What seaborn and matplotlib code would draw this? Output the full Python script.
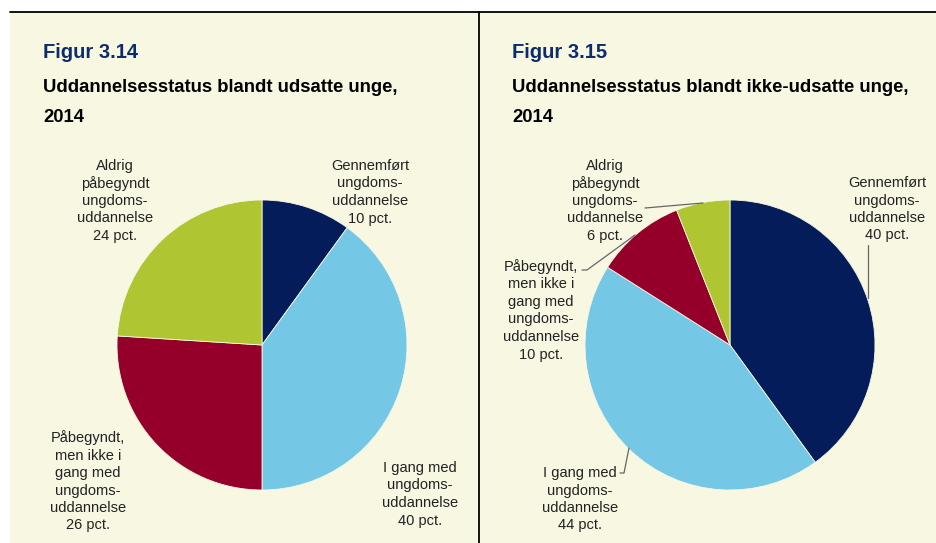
import matplotlib
matplotlib.use("Agg")
import matplotlib.pyplot as plt
from matplotlib.patches import Rectangle
from matplotlib.lines import Line2D
import seaborn as sns

# Data
categories = ["Gennemført", "I gang med", "Påbegyndt", "Aldrig"]
udsatte = [10, 40, 26, 24]
ikke_udsatte = [40, 44, 10, 6]

label_lines = {
    "Gennemført": ["Gennemført", "ungdoms-", "uddannelse"],
    "I gang med": ["I gang med", "ungdoms-", "uddannelse"],
    "Påbegyndt": ["Påbegyndt,", "men ikke i", "gang med", "ungdoms-", "uddannelse"],
    "Aldrig": ["Aldrig", "påbegyndt", "ungdoms-", "uddannelse"],
}

titles = ["Figur 3.14", "Figur 3.15"]
subtitles = ["Uddannelsesstatus blandt udsatte unge,", "Uddannelsesstatus blandt ikke-udsatte unge,"]
year = "2014"

sns.set_theme(style="white")
plt.rcParams["font.family"] = ["Liberation Sans", "DejaVu Sans"]

palette = sns.color_palette(["#041D5A", "#74C8E6", "#94002A", "#AFC531"])
cream = "#F8F7E2"
text_col = "#222222"
lead_col = "#666666"

W, H = 936, 543
fig = plt.figure(figsize=(W / 100, H / 100), dpi=100, facecolor="white")


def fx(x):
    return x / W


def fy(y):
    return 1 - y / H


# Panel background and frame lines
bg = Rectangle((fx(10), 0), fx(W - 10), fy(12), transform=fig.transFigure,
               facecolor=cream, edgecolor="none", zorder=-10)
fig.add_artist(bg)
fig.add_artist(Line2D([fx(10), 1], [fy(12), fy(12)], transform=fig.transFigure,
                      color="black", lw=1.3, zorder=5))
fig.add_artist(Line2D([fx(479), fx(479)], [fy(12), 0], transform=fig.transFigure,
                      color="black", lw=1.3, zorder=5))

# Headings
for x0, t, s in zip([43, 512], titles, subtitles):
    fig.text(fx(x0), fy(53), t, color="#0B2D6B", fontsize=14.5, fontweight="bold", va="center")
    fig.text(fx(x0), fy(87), s, color="black", fontsize=13.3, fontweight="bold", va="center")
    fig.text(fx(x0), fy(118), year, color="black", fontsize=13.3, fontweight="bold", va="center")

R = 145


def draw_pie(cx, cy, values):
    ax = fig.add_axes([fx(cx - R), fy(cy + R), fx(2 * R), (2 * R) / H], zorder=1)
    ax.pie(values, colors=palette, startangle=90, counterclock=False,
           wedgeprops=dict(linewidth=0.6, edgecolor=cream), radius=1)
    ax.set_xlim(-1, 1)
    ax.set_ylim(-1, 1)
    ax.set_aspect("equal")
    ax.axis("off")
    return ax


def block(xc, ytop, lines, step=17.5):
    for i, ln in enumerate(lines):
        fig.text(fx(xc), fy(ytop + i * step), ln, ha="center", va="center",
                 fontsize=10.5, color=text_col, zorder=6)


def leader(pts):
    xs = [fx(p[0]) for p in pts]
    ys = [fy(p[1]) for p in pts]
    fig.add_artist(Line2D(xs, ys, transform=fig.transFigure, color=lead_col, lw=0.9, zorder=6))


draw_pie(262, 345, udsatte)
draw_pie(730, 345, ikke_udsatte)

# Labels, left pie
block(370, 166, label_lines["Gennemført"] + [f"{udsatte[0]} pct."])
block(420, 468, label_lines["I gang med"] + [f"{udsatte[1]} pct."])
block(88, 438, label_lines["Påbegyndt"] + [f"{udsatte[2]} pct."])
block(115, 166, label_lines["Aldrig"] + [f"{udsatte[3]} pct."])

# Labels, right pie
block(887, 183, label_lines["Gennemført"] + [f"{ikke_udsatte[0]} pct."])
block(580, 473, label_lines["I gang med"] + [f"{ikke_udsatte[1]} pct."])
block(541, 267, label_lines["Påbegyndt"] + [f"{ikke_udsatte[2]} pct."])
block(605, 166, label_lines["Aldrig"] + [f"{ikke_udsatte[3]} pct."])

leader([(868, 245), (868, 298)])
leader([(620, 473), (624, 473), (629, 448)])
leader([(582, 270), (587, 270), (635, 235)])
leader([(645, 208), (703, 203)])

fig.savefig("out.png", dpi=100, facecolor="white")
